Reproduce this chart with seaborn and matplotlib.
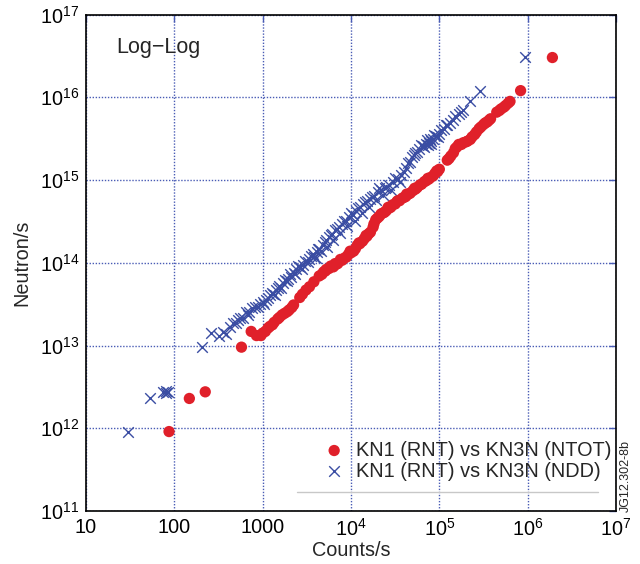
import numpy as np
import pandas as pd
import matplotlib
matplotlib.use("Agg")
import matplotlib.pyplot as plt
import seaborn as sns
from matplotlib.ticker import FixedLocator, FixedFormatter, NullLocator

# ---- data (log10 values) ----
ntot_logx = [1.94, 2.17, 2.35, 2.76,
             2.87, 2.93, 2.98, 3.03, 3.08, 3.13, 3.19, 3.25, 3.30, 3.35,
             3.42, 3.45, 3.49, 3.53, 3.58, 3.64, 3.69, 3.72, 3.75, 3.80, 3.82,
             3.85, 3.90, 3.95, 3.97, 4.00, 4.05, 4.07, 4.10, 4.15, 4.18, 4.20,
             4.25, 4.28, 4.30, 4.32, 4.36, 4.40, 4.42, 4.45, 4.50, 4.52, 4.55,
             4.60, 4.62, 4.65, 4.70, 4.72, 4.75, 4.80, 4.85, 4.88, 4.90, 4.95,
             4.98, 5.00, 5.09, 5.13, 5.18, 5.22, 5.27, 5.32, 5.37, 5.40, 5.42,
             5.47, 5.52, 5.56, 5.58, 5.65, 5.70, 5.75, 5.80, 5.92, 6.28,
             3.00, 3.06, 3.11, 3.17, 3.22, 3.28, 3.33, 3.67, 3.71, 3.77, 3.83,
             3.88, 3.93, 3.99, 4.03, 4.09, 4.13, 4.17, 4.22, 4.26, 4.34, 4.38,
             4.43, 4.47, 4.53, 4.58, 4.63, 4.67, 4.73, 4.78, 4.83, 4.87, 4.93,
             4.97, 5.11, 5.16, 5.20, 5.25, 5.30, 5.35, 5.45, 5.50, 5.54, 5.68,
             5.73, 5.78]
ntot_logy = [11.96, 12.36, 12.44, 12.98,
             13.17, 13.12, 13.12, 13.17, 13.23, 13.28, 13.34, 13.39, 13.43, 13.49,
             13.58, 13.62, 13.67, 13.71, 13.77, 13.84, 13.89, 13.92, 13.93, 13.95, 13.99,
             13.99, 14.03, 14.07, 14.10, 14.12, 14.17, 14.21, 14.23, 14.29, 14.32, 14.35,
             14.43, 14.52, 14.54, 14.56, 14.60, 14.63, 14.67, 14.67, 14.71, 14.74, 14.75,
             14.79, 14.80, 14.83, 14.87, 14.90, 14.91, 14.95, 14.99, 15.01, 15.03, 15.08,
             15.10, 15.13, 15.24, 15.29, 15.38, 15.43, 15.45, 15.47, 15.52, 15.55, 15.58,
             15.64, 15.69, 15.72, 15.74, 15.82, 15.86, 15.90, 15.95, 16.08, 16.48,
             13.15, 13.21, 13.25, 13.32, 13.37, 13.41, 13.46, 13.86, 13.90, 13.96, 13.98,
             14.04, 14.06, 14.14, 14.14, 14.24, 14.26, 14.33, 14.37, 14.47, 14.59, 14.61,
             14.66, 14.70, 14.75, 14.78, 14.83, 14.84, 14.89, 14.94, 14.98, 15.02, 15.05,
             15.11, 15.26, 15.33, 15.40, 15.43, 15.46, 15.49, 15.62, 15.67, 15.70, 15.84,
             15.88, 15.93]

ndd_logx = [1.47, 1.72, 1.87, 1.90, 1.93, 1.91,
            2.31, 2.41, 2.50, 2.55, 2.59, 2.66, 2.70, 2.74, 2.78, 2.81, 2.85,
            2.91, 2.95, 3.00, 3.04, 3.08, 3.12, 3.15, 3.19, 3.23, 3.27, 3.32,
            3.35, 3.38, 3.42, 3.46, 3.51, 3.55, 3.58, 3.61, 3.64, 3.68, 3.72,
            3.75, 3.79, 3.82, 3.86, 3.90, 3.94, 3.98, 4.02, 4.06, 4.10, 4.14,
            4.18, 4.22, 4.26, 4.30, 4.34, 4.38, 4.43, 4.48, 4.53, 4.57, 4.60,
            4.65, 4.69, 4.73, 4.77, 4.81, 4.85, 4.88, 4.90, 4.93, 4.96, 5.00,
            5.05, 5.09, 5.15, 5.22, 5.27, 5.35, 5.46, 5.97,
            2.63, 2.72, 2.83, 2.88, 2.97, 3.02, 3.06, 3.10, 3.14, 3.17, 3.21,
            3.25, 3.29, 3.31, 3.37, 3.40, 3.44, 3.48, 3.53, 3.57, 3.60, 3.63,
            3.66, 3.70, 3.73, 3.77, 3.80, 3.84, 3.88, 3.92, 3.96, 4.00, 4.04,
            4.08, 4.12, 4.16, 4.20, 4.24, 4.28, 4.32, 4.36, 4.40, 4.45, 4.50,
            4.55, 4.62, 4.67, 4.71, 4.75, 4.79, 4.83, 4.86, 4.87, 4.89, 4.91,
            4.94, 4.98, 5.02, 5.07, 5.12, 5.18, 5.24]
ndd_logy = [11.96, 12.36, 12.44, 12.45, 12.44, 12.43,
            12.98, 13.15, 13.11, 13.16, 13.14, 13.27, 13.27, 13.33, 13.33, 13.40, 13.41,
            13.47, 13.46, 13.53, 13.55, 13.61, 13.62, 13.67, 13.72, 13.75, 13.78, 13.83,
            13.88, 13.92, 13.95, 13.97, 14.01, 14.08, 14.07, 14.13, 14.17, 14.22, 14.27,
            14.31, 14.35, 14.40, 14.43, 14.47, 14.51, 14.55, 14.58, 14.63, 14.67, 14.71,
            14.75, 14.77, 14.81, 14.85, 14.88, 14.90, 14.94, 14.98, 15.01, 15.06, 15.10,
            15.20, 15.28, 15.33, 15.38, 15.41, 15.44, 15.45, 15.47, 15.50, 15.53, 15.56,
            15.62, 15.67, 15.73, 15.80, 15.85, 15.96, 16.07, 16.49,
            13.22, 13.31, 13.37, 13.45, 13.50, 13.50, 13.58, 13.64, 13.61, 13.70, 13.70,
            13.79, 13.80, 13.86, 13.86, 13.96, 13.93, 14.02, 14.04, 14.11, 14.06, 14.17,
            14.14, 14.25, 14.19, 14.33, 14.27, 14.41, 14.36, 14.50, 14.44, 14.60, 14.51,
            14.66, 14.60, 14.73, 14.67, 14.80, 14.76, 14.90, 14.82, 14.92, 14.88, 15.02,
            14.97, 15.15, 15.22, 15.30, 15.34, 15.42, 15.40, 15.48, 15.42, 15.50, 15.44,
            15.54, 15.52, 15.60, 15.66, 15.69, 15.77, 15.82]

x_ticks = [1e1, 1e2, 1e3, 1e4, 1e5, 1e6, 1e7]
x_tick_labels = ["10", "100", "1000", "$10^{4}$", "$10^{5}$", "$10^{6}$", "$10^{7}$"]
y_ticks = [1e11, 1e12, 1e13, 1e14, 1e15, 1e16, 1e17]
y_tick_labels = ["$10^{11}$", "$10^{12}$", "$10^{13}$", "$10^{14}$",
                 "$10^{15}$", "$10^{16}$", "$10^{17}$"]

label_ntot = "KN1 (RNT) vs KN3N (NTOT)"
label_ndd = "KN1 (RNT) vs KN3N (NDD)"

df_ntot = pd.DataFrame({"x": np.power(10.0, ntot_logx), "y": np.power(10.0, ntot_logy)})
df_ndd = pd.DataFrame({"x": np.power(10.0, ndd_logx), "y": np.power(10.0, ndd_logy)})

# ---- style ----
sns.set_style("white")
plt.rcParams["font.family"] = ["Liberation Sans", "DejaVu Sans"]
plt.rcParams["mathtext.fontset"] = "custom"
plt.rcParams["mathtext.rm"] = "Liberation Sans"
plt.rcParams["mathtext.it"] = "Liberation Sans"
plt.rcParams["mathtext.default"] = "rm"

RED = "#e0202a"
BLUE = "#3a4da3"
GRID = "#4a5cb5"

fig = plt.figure(figsize=(6.4, 5.64), dpi=100)
ax = fig.add_axes([86 / 640, 1 - 511 / 564, 530 / 640, 496.5 / 564])

sns.scatterplot(data=df_ndd, x="x", y="y", ax=ax, marker="x", s=58,
                color=BLUE, linewidth=1.0, label=label_ndd, zorder=3)
sns.scatterplot(data=df_ntot, x="x", y="y", ax=ax, marker="o", s=66,
                color=RED, edgecolor="none", linewidth=0, label=label_ntot, zorder=4)

ax.set_xscale("log")
ax.set_yscale("log")
ax.set_xlim(1e1, 1e7)
ax.set_ylim(1e11, 1e17)
ax.xaxis.set_major_locator(FixedLocator(x_ticks))
ax.xaxis.set_major_formatter(FixedFormatter(x_tick_labels))
ax.yaxis.set_major_locator(FixedLocator(y_ticks))
ax.yaxis.set_major_formatter(FixedFormatter(y_tick_labels))
ax.xaxis.set_minor_locator(NullLocator())
ax.yaxis.set_minor_locator(NullLocator())

ax.grid(True, which="major", color=GRID, linestyle=(0, (1, 1.2)), linewidth=1.0)
ax.set_axisbelow(True)
ax.tick_params(axis="both", which="major", direction="in", length=5, width=1.0,
               color=GRID, labelsize=14.3, labelcolor="black", pad=5,
               top=True, right=True)
for sp in ax.spines.values():
    sp.set_color("black")
    sp.set_linewidth(1.2)

ax.set_xlabel("Counts/s", fontsize=14.3, labelpad=1)
ax.set_ylabel("Neutron/s", fontsize=14.3, labelpad=6)

ax.text(0.058, 0.933, "Log\u2212Log", transform=ax.transAxes, fontsize=15.5,
        ha="left", va="center")

# legend (NTOT first)
handles, labels = ax.get_legend_handles_labels()
order = [labels.index(label_ntot), labels.index(label_ndd)]
leg = ax.legend([handles[i] for i in order], [labels[i] for i in order],
                loc="lower left", bbox_to_anchor=(0.427, 0.045), frameon=False,
                fontsize=14.3, handletextpad=0.4, labelspacing=0.1,
                borderaxespad=0, handlelength=1.4)
ax.plot([0.398, 0.966], [0.039, 0.039], transform=ax.transAxes,
        color="#c8c8c8", linewidth=1.0, zorder=5)

fig.text(0.978, 0.156, "JG12.302-8b", rotation=90, fontsize=9,
         ha="center", va="center")

fig.savefig("out.png", dpi=100)
